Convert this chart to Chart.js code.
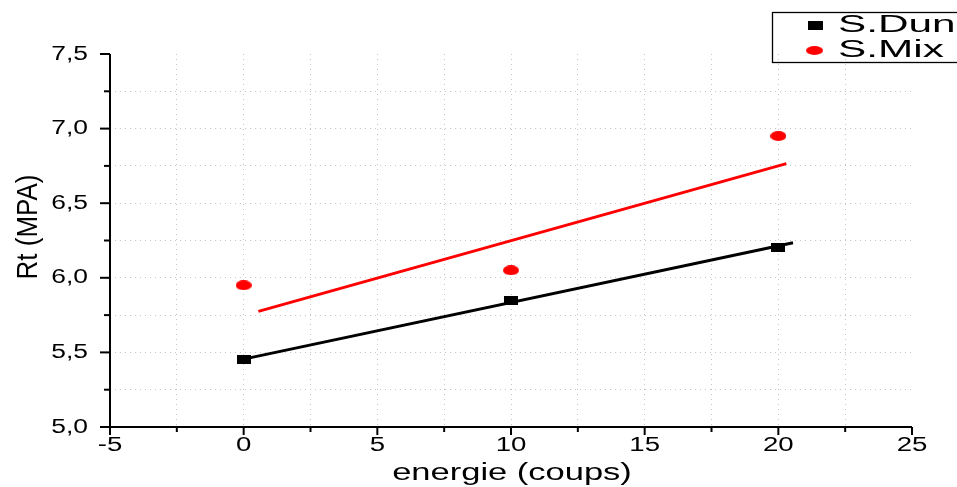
<!DOCTYPE html>
<html>
<head>
<meta charset="utf-8">
<script src="https://cdn.jsdelivr.net/npm/chart.js@4.4.0/dist/chart.umd.min.js"></script>
<style>
  html, body { margin: 0; padding: 0; background: #fff; }
  canvas { display: block; }
</style>
</head>
<body>
<canvas id="rt" width="957" height="487"></canvas>
<script>
// energie (coups) vs Rt (MPA)
const energie = [0, 10, 20];
const sDun = [5.45, 5.85, 6.2];
const sMix = [5.95, 6.05, 6.95];

// fitted lines, start / end
const dunFitX = [0, 20.55];
const dunFitY = [5.455, 6.235];
const mixFitX = [0.55, 20.3];
const mixFitY = [5.775, 6.765];

const xMajor = [-5, 0, 5, 10, 15, 20, 25];
const yMajor = [5.0, 5.5, 6.0, 6.5, 7.0, 7.5];

const FONT = 'Liberation Sans, Arial, sans-serif';

// stretched marker shapes
function makeMarker(w, h, color, round) {
  const c = document.createElement('canvas');
  c.width = w; c.height = h;
  const g = c.getContext('2d');
  g.fillStyle = color;
  if (round) {
    g.beginPath();
    g.ellipse(w / 2, h / 2, w / 2, h / 2, 0, 0, Math.PI * 2);
    g.fill();
  } else {
    g.fillRect(0, 0, w, h);
  }
  return c;
}
const squareMark = makeMarker(14, 9, '#000', false);
const dotMark = makeMarker(16, 10, '#ff0000', true);

function pts(xs, ys) {
  return xs.map((x, i) => ({ x: x, y: ys[i] }));
}

function wideText(ctx, text, x, y, size, sx, align) {
  ctx.save();
  ctx.translate(x, y);
  ctx.scale(sx, 1);
  ctx.font = size + 'px ' + FONT;
  ctx.textAlign = align;
  ctx.textBaseline = 'middle';
  ctx.fillStyle = '#000';
  ctx.fillText(text, 0, 0);
  ctx.restore();
}

const axesPlugin = {
  id: 'axesPlugin',
  afterDraw: chart => {
    const ctx = chart.ctx;
    const xs = chart.scales.x;
    const ys = chart.scales.y;
    const a = chart.chartArea;
    ctx.save();
    ctx.strokeStyle = '#000';
    ctx.lineWidth = 2;
    ctx.beginPath();
    ctx.moveTo(a.left, a.top);
    ctx.lineTo(a.left, a.bottom);
    ctx.lineTo(a.right, a.bottom);
    ctx.stroke();

    // tick marks
    for (let v = -5; v <= 25; v += 2.5) {
      const px = xs.getPixelForValue(v);
      const len = v % 5 === 0 ? 8 : 5;
      ctx.beginPath();
      ctx.moveTo(px, a.bottom);
      ctx.lineTo(px, a.bottom + len);
      ctx.stroke();
    }
    for (let i = 0; i <= 10; i++) {
      const v = 5 + i * 0.25;
      const py = ys.getPixelForValue(v);
      const len = i % 2 === 0 ? 10 : 6;
      ctx.beginPath();
      ctx.moveTo(a.left, py);
      ctx.lineTo(a.left - len, py);
      ctx.stroke();
    }

    // tick labels
    xMajor.forEach(v => {
      wideText(ctx, String(v), xs.getPixelForValue(v), a.bottom + 18, 20, 1.38, 'center');
    });
    yMajor.forEach(v => {
      wideText(ctx, v.toFixed(1).replace('.', ','), 88, ys.getPixelForValue(v), 20, 1.32, 'right');
    });

    // axis titles
    wideText(ctx, 'energie (coups)', 512, 474, 23, 1.5, 'center');
    ctx.save();
    ctx.translate(29, 227);
    ctx.rotate(-Math.PI / 2);
    ctx.scale(1, 1.12);
    ctx.font = '26px ' + FONT;
    ctx.textAlign = 'center';
    ctx.textBaseline = 'middle';
    ctx.fillStyle = '#000';
    ctx.fillText('Rt (MPA)', 0, 0);
    ctx.restore();

    // legend box
    ctx.lineWidth = 1.3;
    ctx.strokeStyle = '#000';
    ctx.strokeRect(772.5, 12.5, 200, 50);
    ctx.drawImage(squareMark, 808, 21, 15, 9);
    ctx.drawImage(dotMark, 806, 46, 17, 9);
    wideText(ctx, 'S.Dun', 838, 26, 23, 1.84, 'left');
    wideText(ctx, 'S.Mix', 838, 51, 23, 1.84, 'left');
    ctx.restore();
  }
};

const edgeGrid = (limit) => ctx => {
  const v = ctx.tick ? ctx.tick.value : null;
  return v === limit ? 'rgba(0,0,0,0)' : '#c4c4c4';
};

new Chart(document.getElementById('rt'), {
  type: 'scatter',
  plugins: [axesPlugin],
  data: {
    datasets: [
      {
        label: 'S.Dun',
        data: pts(energie, sDun),
        pointStyle: squareMark,
        order: 0
      },
      {
        label: 'S.Mix',
        data: pts(energie, sMix),
        pointStyle: dotMark,
        order: 1
      },
      {
        type: 'line',
        label: 'S.Dun fit',
        data: pts(dunFitX, dunFitY),
        borderColor: '#000',
        borderWidth: 3,
        pointRadius: 0,
        fill: false,
        order: 2
      },
      {
        type: 'line',
        label: 'S.Mix fit',
        data: pts(mixFitX, mixFitY),
        borderColor: '#ff0000',
        borderWidth: 3,
        pointRadius: 0,
        fill: false,
        order: 3
      }
    ]
  },
  options: {
    responsive: false,
    animation: false,
    devicePixelRatio: 1,
    layout: {
      padding: { left: 110, right: 45, top: 54, bottom: 60 }
    },
    plugins: {
      legend: { display: false },
      tooltip: { enabled: false }
    },
    scales: {
      x: {
        type: 'linear',
        min: -5,
        max: 25,
        ticks: { stepSize: 2.5, display: false },
        grid: { color: edgeGrid(25), lineWidth: 1, drawTicks: false },
        border: { display: false, dash: [1, 4] }
      },
      y: {
        min: 5,
        max: 7.5,
        ticks: { stepSize: 0.25, display: false },
        grid: { color: edgeGrid(7.5), lineWidth: 1, drawTicks: false },
        border: { display: false, dash: [1, 4] }
      }
    }
  }
});
</script>
</body>
</html>
